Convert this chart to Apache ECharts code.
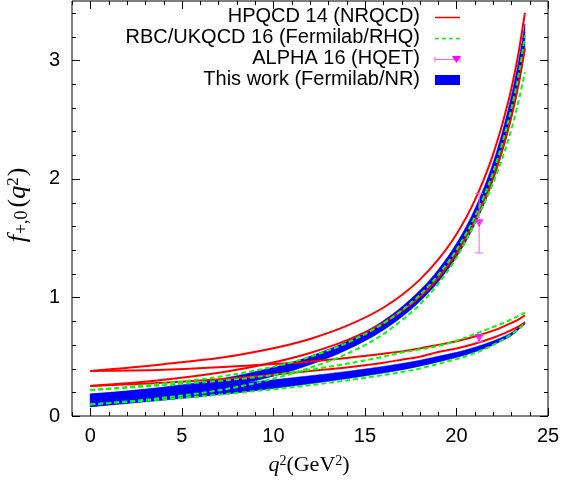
<!DOCTYPE html>
<html>
<head>
<meta charset="utf-8">
<script src="https://cdn.jsdelivr.net/npm/echarts@6/dist/echarts.min.js"></script>
<style>
  html, body { margin: 0; padding: 0; background: #fff; }
  #chart { width: 563px; height: 482px; }
</style>
</head>
<body>
<div id="chart"></div>
<script>
const q2 = [0, 4, 8, 12, 14, 16, 17, 18, 19, 20, 21, 22, 22.5, 23, 23.4, 23.74];

// HPQCD 14 (NRQCD), red solid: band edges
const hpqcdFpHi = [0.380, 0.437, 0.513, 0.650, 0.760, 0.913, 1.018, 1.150, 1.318, 1.533, 1.819, 2.207, 2.459, 2.762, 3.070, 3.401];
const hpqcdFpLo = [0.253, 0.305, 0.390, 0.532, 0.638, 0.785, 0.884, 1.005, 1.164, 1.370, 1.642, 2.006, 2.241, 2.524, 2.801, 3.100];
const hpqcdF0Hi = [0.380, 0.390, 0.420, 0.460, 0.490, 0.525, 0.545, 0.570, 0.600, 0.630, 0.670, 0.720, 0.750, 0.785, 0.815, 0.850];
const hpqcdF0Lo = [0.253, 0.280, 0.320, 0.380, 0.410, 0.450, 0.475, 0.500, 0.540, 0.570, 0.610, 0.660, 0.690, 0.725, 0.755, 0.787];

// RBC/UKQCD 16 (Fermilab/RHQ), green dashed: band edges
const rbcFpHi = [0.219, 0.274, 0.355, 0.499, 0.616, 0.780, 0.889, 1.021, 1.188, 1.401, 1.680, 2.055, 2.299, 2.593, 2.882, 3.211];
const rbcFpLo = [0.098, 0.154, 0.244, 0.407, 0.523, 0.690, 0.805, 0.940, 1.115, 1.335, 1.625, 1.965, 2.170, 2.420, 2.660, 2.900];
const rbcF0Hi = [0.219, 0.260, 0.310, 0.390, 0.440, 0.500, 0.535, 0.560, 0.590, 0.635, 0.690, 0.750, 0.780, 0.815, 0.845, 0.871];
const rbcF0Lo = [0.098, 0.140, 0.195, 0.260, 0.300, 0.345, 0.370, 0.400, 0.440, 0.480, 0.530, 0.600, 0.640, 0.690, 0.735, 0.780];

// This work (Fermilab/NR), blue filled bands
const thisFpLo = [0.078, 0.152, 0.260, 0.432, 0.557, 0.724, 0.833, 0.966, 1.130, 1.340, 1.614, 1.982, 2.224, 2.514, 2.797, 3.088];
const thisFpHi = [0.186, 0.244, 0.340, 0.504, 0.629, 0.804, 0.919, 1.060, 1.234, 1.456, 1.746, 2.138, 2.394, 2.702, 3.001, 3.308];
const thisF0Lo = [0.078, 0.133, 0.195, 0.271, 0.314, 0.362, 0.388, 0.420, 0.456, 0.493, 0.540, 0.598, 0.635, 0.677, 0.729, 0.775];
const thisF0Hi = [0.186, 0.227, 0.275, 0.339, 0.376, 0.418, 0.442, 0.470, 0.504, 0.537, 0.580, 0.632, 0.665, 0.703, 0.751, 0.795];

// ALPHA 16 (HQET): [q2, value, error]
const alphaPoints = [
  [21.24, 1.625, 0.25],
  [21.24, 0.655, 0.03]
];

// ticks and labels
const xMajor = [0, 5, 10, 15, 20, 25];
const xMinor = [-1, 1, 2, 3, 4, 6, 7, 8, 9, 11, 12, 13, 14, 16, 17, 18, 19, 21, 22, 23, 24];
const yMajor = [0, 1, 2, 3];
const yMinor = [0.2, 0.4, 0.6, 0.8, 1.2, 1.4, 1.6, 1.8, 2.2, 2.4, 2.6, 2.8, 3.2, 3.4];
const legendNames = ['HPQCD 14 (NRQCD)', 'RBC/UKQCD 16 (Fermilab/RHQ)', 'ALPHA 16 (HQET)', 'This work (Fermilab/NR)'];

const sans = 'Liberation Sans, Arial, Helvetica, sans-serif';
const serif = 'Liberation Serif, Times New Roman, serif';
const RED = '#ff0000', GREEN = '#00ff00', BLUE = '#0000ff', MAG = '#ff00ff', VIOLET = '#ee66ee';

const chart = echarts.init(document.getElementById('chart'));

// cubic Hermite segments through the read points, mapped to pixels by the axes
function segments(api, ys) {
  const n = q2.length, h = [], d = [], m = [];
  for (let i = 0; i < n - 1; i++) { h[i] = q2[i + 1] - q2[i]; d[i] = (ys[i + 1] - ys[i]) / h[i]; }
  for (let i = 1; i < n - 1; i++) m[i] = (d[i - 1] * h[i] + d[i] * h[i - 1]) / (h[i - 1] + h[i]);
  m[0] = (3 * d[0] - m[1]) / 2;
  m[n - 1] = (3 * d[n - 2] - m[n - 2]) / 2;
  const segs = [];
  for (let i = 0; i < n - 1; i++) {
    segs.push([
      api.coord([q2[i], ys[i]]),
      api.coord([q2[i] + h[i] / 3, ys[i] + m[i] * h[i] / 3]),
      api.coord([q2[i + 1] - h[i] / 3, ys[i + 1] - m[i + 1] * h[i] / 3]),
      api.coord([q2[i + 1], ys[i + 1]])
    ]);
  }
  return segs;
}
const P = p => p[0].toFixed(2) + ' ' + p[1].toFixed(2);
function pathOf(segs, move, backward) {
  const s = backward ? segs.slice().reverse().map(g => [g[3], g[2], g[1], g[0]]) : segs;
  let d = (move ? 'M' : 'L') + P(s[0][0]);
  s.forEach(g => { d += 'C' + P(g[1]) + ' ' + P(g[2]) + ' ' + P(g[3]); });
  return d;
}

function band(lo, hi) {
  return { type: 'custom', data: [[0, 0]], silent: true, z: 1, clip: true,
    renderItem: (params, api) => ({ type: 'path',
      shape: { pathData: pathOf(segments(api, hi), true, false) + pathOf(segments(api, lo), false, true) + 'Z' },
      style: { fill: BLUE, stroke: BLUE, lineWidth: 0.5 } }) };
}

function curve(ys, color, dashed) {
  return { type: 'custom', data: [[0, 0]], silent: true, z: 3, clip: true,
    renderItem: (params, api) => ({ type: 'path',
      shape: { pathData: pathOf(segments(api, ys), true, false) },
      style: { fill: null, stroke: color, lineWidth: 2, lineDash: dashed ? [5, 3] : null } }) };
}

// ticks inside the frame on all four sides
const tickData = [].concat(
  xMinor.map(v => [v, 0]), xMajor.map(v => [v, 1]),
  yMinor.map(v => [v, 2]), yMajor.map(v => [v, 3])
);
function tickRender(params, api) {
  const cs = params.coordSys;
  const v = api.value(0), k = api.value(1);
  const len = (k === 1 || k === 3) ? 8 : 4;
  const st = { stroke: '#000', lineWidth: 1 };
  if (k < 2) {
    const x = Math.round(api.coord([v, 0])[0]) + 0.5;
    return { type: 'group', children: [
      { type: 'line', shape: { x1: x, y1: cs.y + cs.height, x2: x, y2: cs.y + cs.height - len }, style: st },
      { type: 'line', shape: { x1: x, y1: cs.y, x2: x, y2: cs.y + len }, style: st }
    ] };
  }
  const y = Math.round(api.coord([0, v])[1]) + 0.5;
  return { type: 'group', children: [
    { type: 'line', shape: { x1: cs.x, y1: y, x2: cs.x + len, y2: y }, style: st },
    { type: 'line', shape: { x1: cs.x + cs.width, y1: y, x2: cs.x + cs.width - len, y2: y }, style: st }
  ] };
}

function errRender(params, api) {
  const x = api.value(0), y = api.value(1), e = api.value(2);
  const top = api.coord([x, y + e]), bot = api.coord([x, y - e]);
  const w = 4;
  const st = { stroke: VIOLET, lineWidth: 1 };
  return { type: 'group', children: [
    { type: 'line', shape: { x1: top[0], y1: top[1], x2: bot[0], y2: bot[1] }, style: st },
    { type: 'line', shape: { x1: top[0] - w, y1: top[1], x2: top[0] + w, y2: top[1] }, style: st },
    { type: 'line', shape: { x1: bot[0] - w, y1: bot[1], x2: bot[0] + w, y2: bot[1] }, style: st }
  ] };
}

// legend drawn as graphics (text right-aligned, sample on the right)
const graphics = [];
const rowY = [16, 37, 58.5, 79];
legendNames.forEach((t, i) => {
  graphics.push({ type: 'text', x: 420, y: rowY[i], z: 10,
    style: { text: t, fill: '#000', font: '20px ' + sans, align: 'right', verticalAlign: 'middle' } });
});
graphics.push(
  { type: 'line', shape: { x1: 435, y1: 17.5, x2: 460, y2: 17.5 }, style: { stroke: RED, lineWidth: 1.5 } },
  { type: 'line', shape: { x1: 435, y1: 38.5, x2: 460, y2: 38.5 }, style: { stroke: GREEN, lineWidth: 1.5, lineDash: [4, 3] } },
  { type: 'line', shape: { x1: 435, y1: 59.5, x2: 460, y2: 59.5 }, style: { stroke: VIOLET, lineWidth: 1 } },
  { type: 'line', shape: { x1: 435, y1: 56.5, x2: 435, y2: 62.5 }, style: { stroke: VIOLET, lineWidth: 1 } },
  { type: 'line', shape: { x1: 460, y1: 56.5, x2: 460, y2: 62.5 }, style: { stroke: VIOLET, lineWidth: 1 } },
  { type: 'polygon', shape: { points: [[452, 56], [461, 56], [456.5, 63]] }, style: { fill: MAG } },
  { type: 'rect', shape: { x: 435, y: 75, width: 25, height: 10 }, style: { fill: BLUE } }
);

// axis titles
graphics.push(
  { type: 'text', x: 309, y: 465,
    style: { text: '{i|q}{s|2}{r|(GeV}{s|2}{r|)}', align: 'center', verticalAlign: 'middle', fill: '#000',
      rich: {
        i: { fontFamily: serif, fontStyle: 'italic', fontSize: 22 },
        s: { fontFamily: serif, fontSize: 14, verticalAlign: 'top' },
        r: { fontFamily: serif, fontSize: 22 }
      } } },
  { type: 'text', x: 18, y: 205, rotation: Math.PI / 2,
    style: { text: '{i|f}{b|+,0}{r|(}{q|q}{s|2}{r|)}', align: 'center', verticalAlign: 'middle', fill: '#000',
      rich: {
        i: { fontFamily: serif, fontStyle: 'italic', fontSize: 26, padding: [0, 1, 0, 0] },
        b: { fontFamily: serif, fontSize: 18, verticalAlign: 'bottom', padding: [0, 3, 0, 0] },
        q: { fontFamily: serif, fontStyle: 'italic', fontSize: 26 },
        s: { fontFamily: serif, fontSize: 17, verticalAlign: 'top', padding: [0, 1, 0, 0] },
        r: { fontFamily: serif, fontSize: 26 }
      } } }
);

const option = {
  animation: false,
  backgroundColor: '#fff',
  grid: { left: 72, right: 15, top: 1, bottom: 66, show: true, borderColor: '#000', borderWidth: 1, backgroundColor: 'transparent' },
  xAxis: { type: 'value', min: -1, max: 25,
    splitLine: { show: false }, axisLine: { show: false }, axisTick: { show: false },
    axisLabel: { show: true, customValues: xMajor, fontSize: 20, color: '#000', fontFamily: sans, margin: 10 } },
  yAxis: { type: 'value', min: 0, max: 3.5,
    splitLine: { show: false }, axisLine: { show: false }, axisTick: { show: false },
    axisLabel: { show: true, customValues: yMajor, fontSize: 20, color: '#000', fontFamily: sans, margin: 12 } },
  series: [
    band(thisFpLo, thisFpHi),
    band(thisF0Lo, thisF0Hi),
    curve(hpqcdFpHi, RED), curve(hpqcdFpLo, RED), curve(hpqcdF0Hi, RED), curve(hpqcdF0Lo, RED),
    curve(rbcFpHi, GREEN, true), curve(rbcFpLo, GREEN, true), curve(rbcF0Hi, GREEN, true), curve(rbcF0Lo, GREEN, true),
    { type: 'custom', data: alphaPoints, renderItem: errRender, silent: true, z: 4 },
    { type: 'scatter', data: alphaPoints.map(p => [p[0], p[1]]), symbol: 'triangle', symbolRotate: 180,
      symbolSize: [9, 8], itemStyle: { color: MAG }, silent: true, z: 5 },
    { type: 'custom', data: tickData, renderItem: tickRender, silent: true, z: 6 }
  ],
  graphic: graphics
};

chart.setOption(option);
</script>
</body>
</html>
